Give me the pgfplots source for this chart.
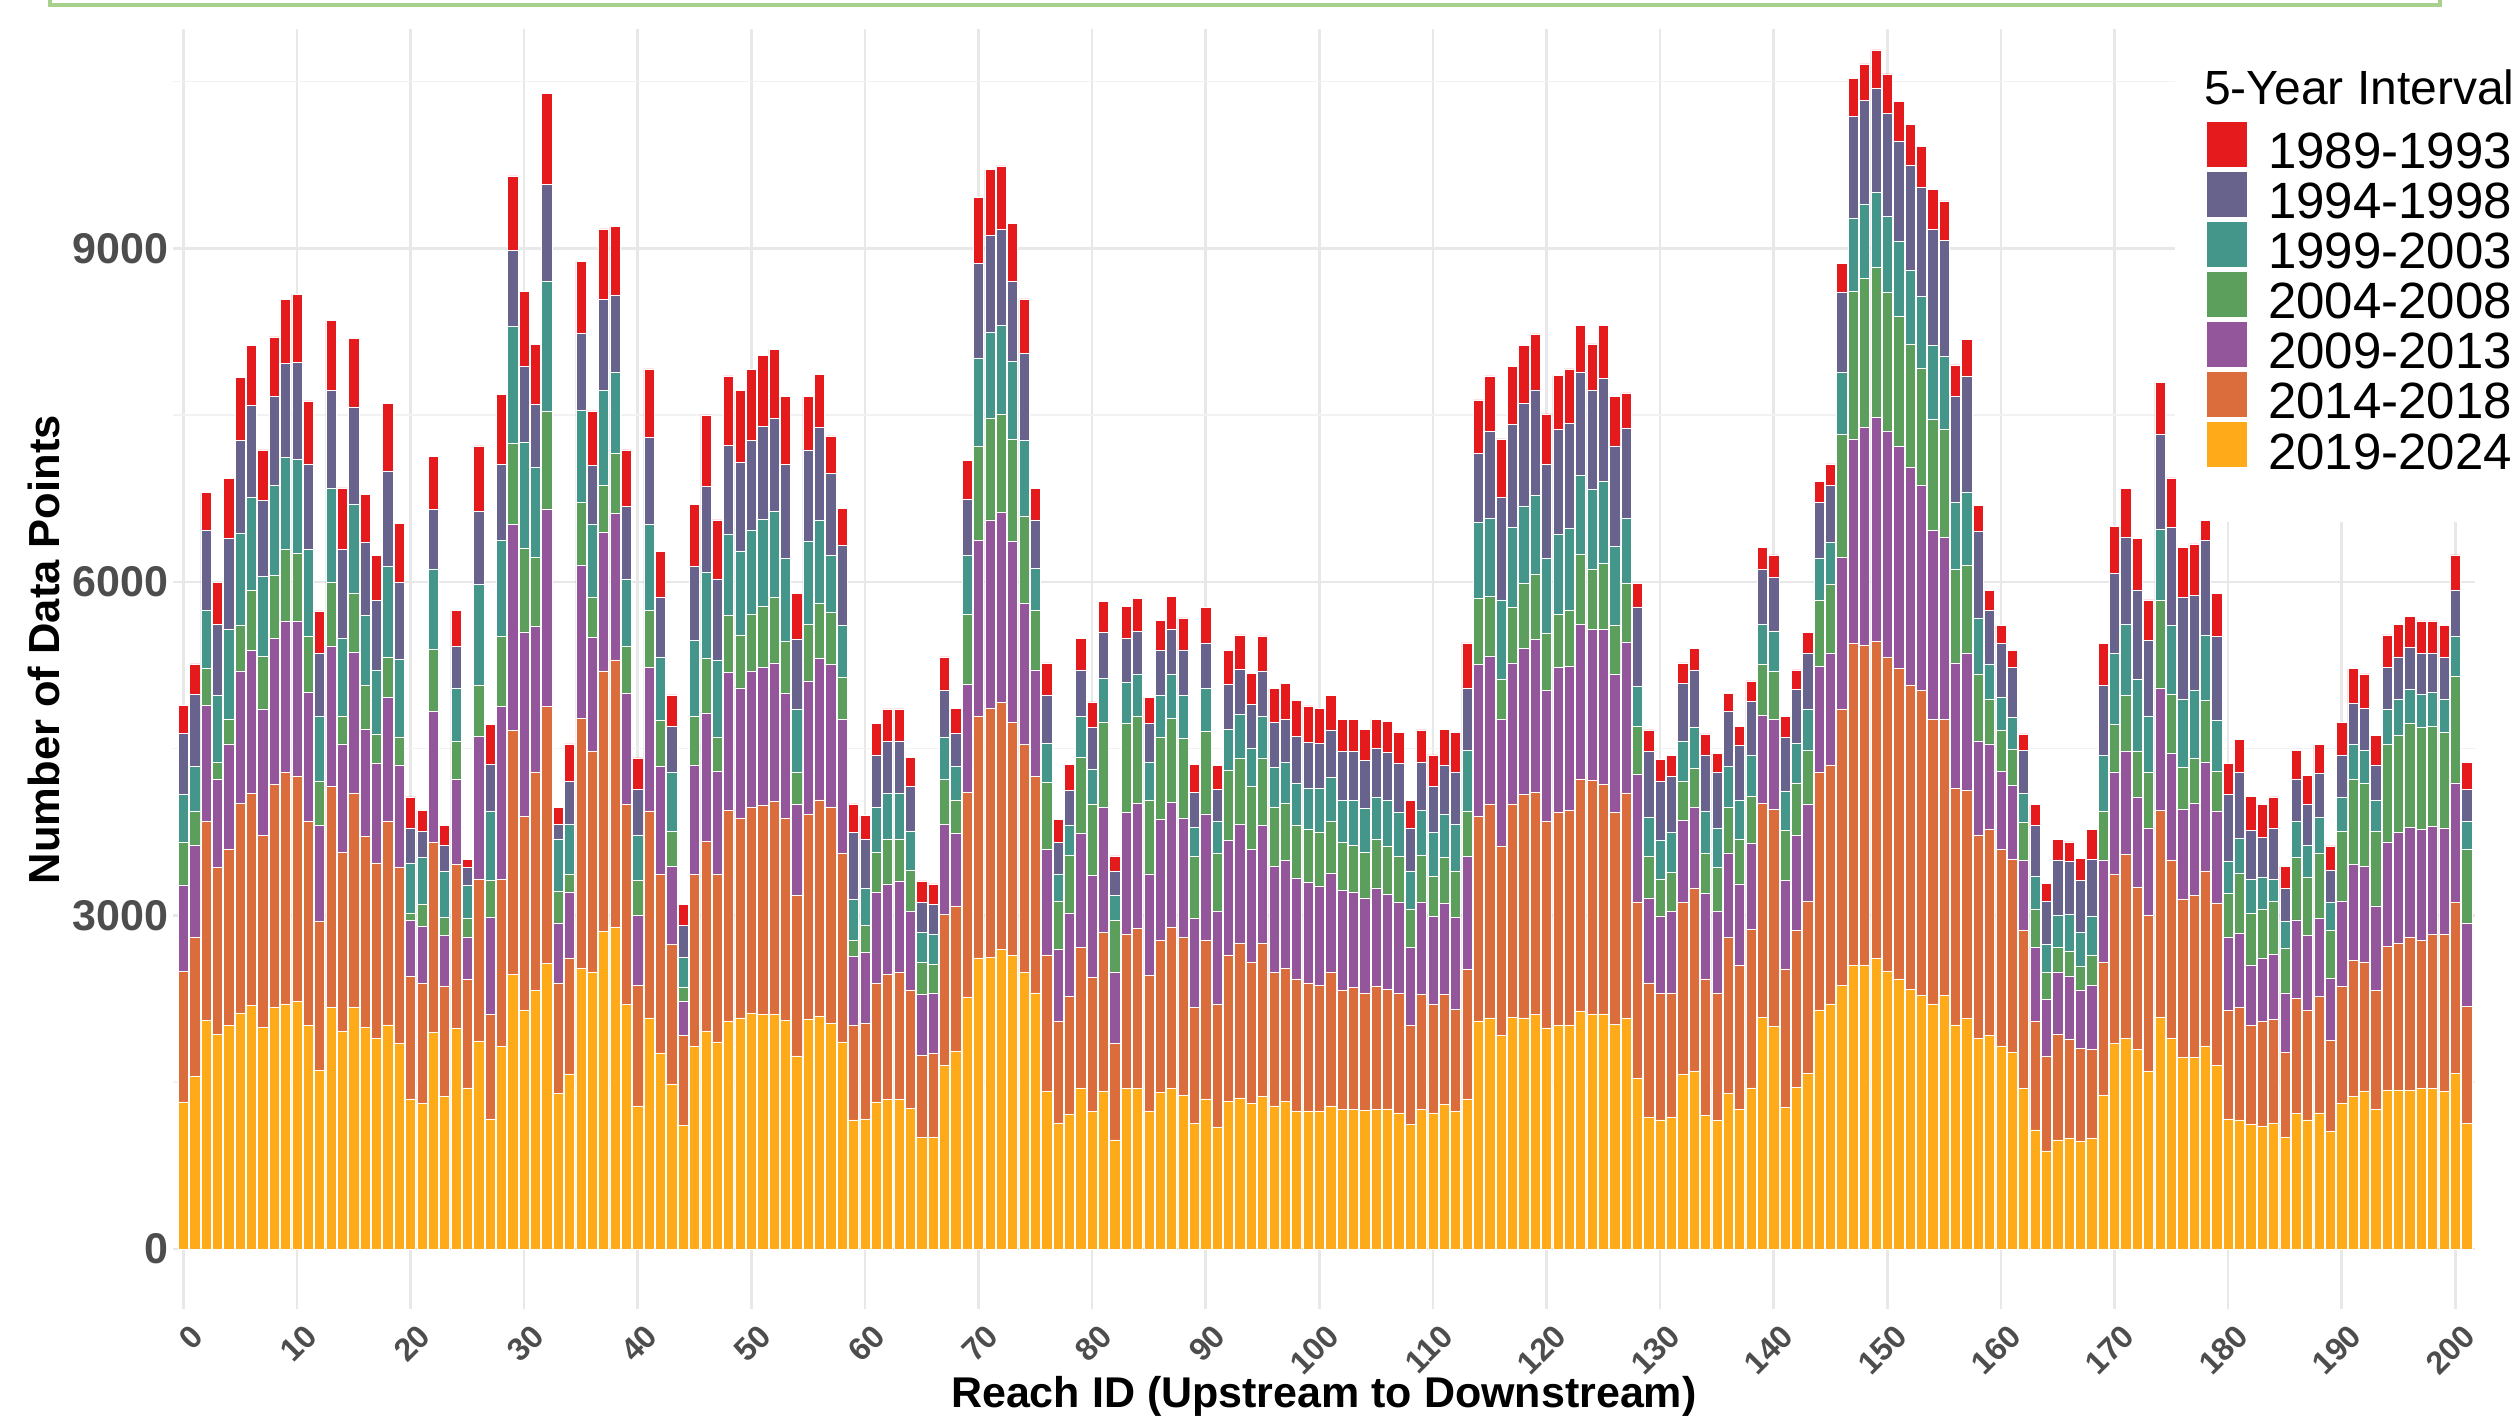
\documentclass[border=0pt]{standalone}
\usepackage{fontspec}
\setmainfont{Liberation Sans}
\usepackage{pgfplots}
\usepackage{pgfplotstable}
\pgfplotsset{compat=1.18}

\definecolor{cRed}{HTML}{E41A1C}
\definecolor{cSlate}{HTML}{67638D}
\definecolor{cTeal}{HTML}{44958A}
\definecolor{cGreen}{HTML}{5C9E5B}
\definecolor{cPurple}{HTML}{93569B}
\definecolor{cOrange}{HTML}{DB6D3D}
\definecolor{cYellow}{HTML}{FFAB19}
\definecolor{tickgray}{HTML}{4D4D4D}
\definecolor{boxgreen}{HTML}{A9D18E}

% counts per reach, one column per 5-year interval (bottom to top of the stack)
\pgfplotstableread{
id yel ora pur gre tea sla red
0 1323 1176 777 385 427 553 252
1 1554 1253 826 301 406 651 273
2 2058 1785 1050 329 525 714 343
3 1932 1498 791 161 595 644 378
4 2009 1589 945 224 805 819 539
5 2121 1890 1190 413 826 833 567
6 2191 1904 1288 546 833 826 539
7 1995 1722 1141 476 714 686 455
8 2170 2009 1316 567 805 805 532
9 2205 2079 1358 651 826 847 574
10 2226 2030 1386 616 847 868 616
11 2009 1834 1162 504 784 770 567
12 1603 1344 861 399 588 560 385
13 2170 1988 1267 574 840 882 630
14 1960 1610 973 252 700 798 553
15 2170 1932 1267 532 798 875 616
16 1995 1715 966 392 630 658 434
17 1897 1575 896 266 574 623 406
18 2016 1827 1120 364 812 861 609
19 1848 1589 917 252 700 693 525
20 1351 1099 504 70 448 315 280
21 1309 1078 518 196 420 238 189
22 1946 1715 1176 560 721 532 483
23 1372 994 455 161 413 238 175
24 1981 1477 763 350 476 371 329
25 1449 973 385 168 294 161 77
26 1869 1456 1288 462 903 658 588
27 1169 938 875 336 616 427 357
28 1820 1505 1554 637 861 679 630
29 2471 2191 1855 728 1057 679 672
30 2149 1743 1659 749 959 679 679
31 2324 1967 1309 623 812 560 539
32 2569 2310 1778 882 1162 875 819
33 1400 987 546 287 469 133 147
34 1575 1043 595 161 448 385 336
35 2527 2247 1379 560 833 693 644
36 2492 1981 1029 364 651 532 490
37 2856 2345 1246 420 854 819 637
38 2898 2401 1316 539 728 700 616
39 2198 1799 1001 427 602 651 511
40 1288 1085 630 315 406 413 280
41 2079 1862 1288 518 770 784 616
42 1764 1603 973 420 567 539 406
43 1484 1253 707 315 525 420 280
44 1113 805 308 126 273 287 189
45 1820 1547 980 441 686 665 560
46 1960 1708 1155 490 770 777 644
47 1862 1505 931 308 693 728 532
48 2044 1904 1239 511 735 798 623
49 2079 1799 1169 476 756 798 644
50 2121 1848 1232 504 763 805 637
51 2107 1883 1239 553 784 833 637
52 2114 1911 1246 595 770 833 623
53 2058 1820 1120 469 749 840 616
54 1736 1442 819 294 567 630 406
55 2065 1848 1197 511 749 819 483
56 2093 1946 1274 497 742 840 476
57 2030 1946 1281 469 511 742 336
58 1862 1701 1204 378 462 721 336
59 1162 854 616 147 364 602 259
60 1169 861 637 245 329 448 210
61 1323 1064 819 364 399 476 280
62 1344 1127 812 406 406 469 294
63 1344 1141 826 378 406 476 287
64 1267 1064 707 371 350 399 266
65 1001 742 546 294 266 266 196
66 1008 749 539 266 266 273 182
67 1652 1358 812 399 385 420 301
68 1778 1309 651 301 301 301 224
69 2268 1841 973 623 532 511 343
70 2618 2177 1582 847 791 854 588
71 2625 2240 1694 917 770 875 588
72 2695 2219 1715 882 798 861 574
73 2639 2100 1624 924 700 714 525
74 2485 2051 1274 784 679 784 490
75 2303 1946 959 539 378 434 280
76 1414 1232 945 609 350 434 287
77 1134 910 651 434 245 280 210
78 1211 1064 749 518 273 308 238
79 1442 1274 1022 686 364 420 287
80 1239 1204 917 644 315 371 231
81 1414 1435 1120 770 392 420 273
82 980 868 644 469 217 224 133
83 1442 1393 1092 798 371 399 287
84 1442 1442 1127 784 378 385 294
85 1239 1225 910 665 336 350 238
86 1407 1372 1085 742 378 399 273
87 1442 1456 1120 756 399 406 294
88 1379 1428 1071 714 392 406 287
89 1127 1043 805 553 266 315 252
90 1351 1428 1134 742 385 413 315
91 1099 1099 840 525 287 287 210
92 1330 1316 1029 630 371 406 301
93 1358 1393 1071 595 392 406 308
94 1309 1274 1008 567 350 392 280
95 1372 1379 1057 609 371 413 315
96 1288 1197 959 525 364 406 301
97 1330 1197 966 518 364 392 322
98 1239 1190 910 476 378 420 322
99 1239 1155 903 476 371 413 329
100 1239 1134 889 490 392 406 315
101 1288 1197 896 469 392 427 308
102 1253 1078 896 427 378 441 294
103 1253 1099 861 420 399 441 294
104 1246 1057 854 413 392 434 280
105 1253 1113 882 441 378 434 266
106 1260 1078 854 434 406 434 280
107 1225 1071 819 413 399 441 280
108 1120 889 707 336 350 385 245
109 1253 1036 826 427 406 434 287
110 1225 973 791 364 392 413 287
111 1302 987 819 413 385 441 329
112 1239 917 826 420 420 469 357
113 1351 1162 1015 413 546 560 406
114 2051 1841 1365 595 686 616 483
115 2079 1925 1330 539 700 784 497
116 1918 1708 1141 357 714 924 525
117 2086 1918 1267 504 714 931 518
118 2079 2009 1316 581 700 924 518
119 2107 2002 1372 588 714 945 504
120 1988 1855 1183 511 672 854 448
121 2009 1918 1302 476 721 945 490
122 2016 1932 1295 504 735 945 490
123 2142 2086 1393 630 707 924 427
124 2114 2100 1358 546 714 896 413
125 2114 2065 1393 595 735 931 476
126 2023 1904 1239 448 707 903 448
127 2072 2030 1358 532 581 812 315
128 1533 1589 1148 434 357 714 210
129 1183 1211 763 378 350 588 196
130 1162 1134 700 329 350 532 196
131 1183 1120 735 350 364 504 182
132 1568 1547 742 350 364 518 182
133 1596 1652 721 357 371 511 196
134 1204 1225 770 364 371 511 189
135 1155 1148 735 392 357 497 175
136 1400 1400 763 406 371 497 161
137 1253 1295 735 399 357 490 175
138 1449 1428 770 427 371 483 182
139 2086 1925 791 455 364 490 203
140 2002 1953 812 427 364 483 203
141 1274 1246 798 448 350 483 189
142 1456 1407 854 476 357 483 175
143 1582 1547 868 490 371 504 182
144 2149 2135 959 595 378 497 189
145 2205 2149 1001 623 378 511 196
146 2373 2485 1365 1106 553 728 259
147 2555 2898 1834 1330 658 910 343
148 2555 2877 1960 1337 672 931 329
149 2611 2856 2016 1344 679 931 350
150 2499 2828 2030 1246 686 924 357
151 2429 2793 1995 1169 679 903 357
152 2338 2737 1960 1106 665 945 364
153 2282 2744 1841 1057 644 980 371
154 2205 2562 1694 1001 665 1043 364
155 2282 2485 1631 980 651 1043 357
156 2016 2128 1127 840 602 959 280
157 2072 2051 1239 791 658 1043 329
158 1897 1827 847 602 504 777 238
159 1918 1855 770 406 315 483 175
160 1827 1764 707 364 301 483 161
161 1771 1736 665 322 287 448 154
162 1442 1428 623 343 259 392 147
163 1071 980 665 336 301 455 189
164 882 854 511 238 252 392 161
165 980 952 560 224 287 497 182
166 994 896 567 224 329 476 175
167 973 833 525 210 308 469 196
168 994 798 581 273 350 511 266
169 1386 1197 917 434 504 630 378
170 1848 1526 917 427 637 721 427
171 1897 1652 924 504 644 777 441
172 1792 1463 812 406 651 805 462
173 1596 1407 784 504 504 679 364
174 2086 1862 1099 784 644 854 469
175 1897 1603 959 532 616 882 448
176 1722 1428 805 378 616 910 455
177 1722 1456 833 406 609 854 462
178 1827 1575 973 560 588 854 175
179 1652 1456 833 357 462 749 385
180 1169 980 658 392 287 602 280
181 1162 1008 672 539 315 588 301
182 1120 896 539 469 301 441 308
183 1106 938 567 448 287 357 294
184 1134 931 588 476 196 455 287
185 1008 763 532 406 238 294 203
186 1218 1036 707 560 322 385 259
187 1162 987 672 525 287 364 266
188 1225 1050 700 588 322 392 259
189 1057 819 560 427 252 294 217
190 1309 1050 770 630 308 378 294
191 1372 1225 861 770 308 371 315
192 1421 1162 861 749 294 378 308
193 1253 1071 763 672 273 322 266
194 1428 1295 938 875 315 378 294
195 1428 1323 994 875 322 385 294
196 1428 1372 994 938 301 378 280
197 1442 1337 994 917 301 364 294
198 1442 1386 973 903 301 357 287
199 1414 1414 959 861 301 371 287
200 1582 1540 1071 959 364 413 315
201 1127 1057 749 665 245 294 238
}\reach

\begin{document}
\begin{tikzpicture}
\begin{axis}[
    scale only axis,
    width=460.3pt, height=263.9pt,
    xmin=-0.9, xmax=201.7,
    ymin=-544, ymax=11326,
    clip=false,
    ybar stacked, bar width=0.9,
    axis line style={draw=none},
    tick style={draw=none},
    xtick={0,10,...,200},
    ytick={0,3000,6000,9000},
    minor ytick={1500,4500,7500,10500},
    scaled y ticks=false,
    xmajorgrids, ymajorgrids, yminorgrids,
    major grid style={draw=black!9, line width=0.5pt},
    minor grid style={draw=black!5, line width=0.3pt},
    /pgf/number format/1000 sep={},
    /pgf/number format/assume math mode=true,
    yticklabel style={font=\fontsize{8.6}{10}\selectfont\bfseries, text=tickgray,
        anchor=east, inner sep=0pt, xshift=-0.8pt},
    xticklabel style={font=\fontsize{6.4}{7}\selectfont\bfseries, text=tickgray,
        inner sep=0pt, anchor=north east, xshift=1.2pt, yshift=-2.4pt, rotate=45},
    xlabel={Reach ID (Upstream to Downstream)},
    ylabel={Number of Data Points},
    x label style={at={(axis description cs:0.5,-0.0747)}, anchor=base,
        font=\fontsize{8.6}{10}\selectfont\bfseries},
    y label style={at={(axis description cs:-0.0560,0.5)}, anchor=center,
        font=\fontsize{8.7}{10}\selectfont\bfseries},
    legend style={at={(axis description cs:0.8833,0.9009)}, anchor=north west,
        draw=none, fill=none, inner sep=0pt, outer sep=0pt,
        row sep=-5.4pt, column sep=2.1pt,
        font=\fontsize{10.2}{12}\selectfont,
        cells={inner sep=0pt, text height=8.65pt, text depth=1.35pt}},
    legend cell align=left,
    reverse legend,
    legend image code/.code={\fill[#1] (0pt,-0.9pt) rectangle (8.2pt,8.3pt);},
]
\addplot[fill=cYellow, draw=white, line width=0.1pt] table[x=id, y=yel] {\reach};
\addplot[fill=cOrange, draw=white, line width=0.1pt] table[x=id, y=ora] {\reach};
\addplot[fill=cPurple, draw=white, line width=0.1pt] table[x=id, y=pur] {\reach};
\addplot[fill=cGreen, draw=white, line width=0.1pt] table[x=id, y=gre] {\reach};
\addplot[fill=cTeal, draw=white, line width=0.1pt] table[x=id, y=tea] {\reach};
\addplot[fill=cSlate, draw=white, line width=0.1pt] table[x=id, y=sla] {\reach};
\addplot[fill=cRed, draw=white, line width=0.1pt] table[x=id, y=red] {\reach};
\legend{\raisebox{2.4pt}{2019-2024},\raisebox{2.4pt}{2014-2018},
    \raisebox{2.4pt}{2009-2013},\raisebox{2.4pt}{2004-2008},
    \raisebox{2.4pt}{1999-2003},\raisebox{2.4pt}{1994-1998},
    \raisebox{2.4pt}{1989-1993}}

% white panel behind the legend and the strip under the framed box at the top
\fill[white] (axis description cs:0.8699,0.5964) rectangle (axis description cs:1.2,1.2);
\fill[white] (axis description cs:-0.2,0.9704) rectangle (axis description cs:1.2,1.2);

\coordinate (BL) at (axis description cs:0,0);
\coordinate (TR) at (axis description cs:1,1);
\end{axis}
% legend title and the edge of the framed box above the chart
\node[anchor=base west, inner sep=0pt, font=\fontsize{9.6}{11}\selectfont]
    at ([shift={(406.0pt,240.9pt)}]BL) {5-Year Interval};
\draw[boxgreen, line width=0.8pt] ([shift={(-24.6pt,270pt)}]BL)
    |- ([shift={(453.4pt,260.9pt)}]BL) -- ([shift={(453.4pt,270pt)}]BL);
\pgfresetboundingbox
\path[use as bounding box] ([shift={(-34.62pt,-22.32pt)}]BL) rectangle ([shift={(8.68pt,-2.02pt)}]TR);
\end{tikzpicture}
\end{document}
